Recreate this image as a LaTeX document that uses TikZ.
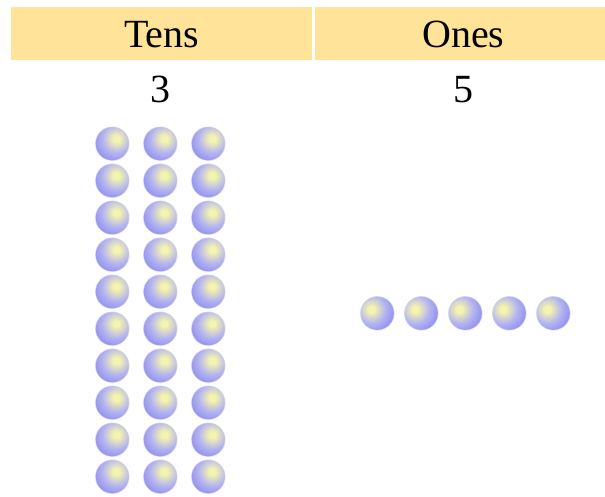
\documentclass[tikz,border=0pt]{standalone}
\usepackage{fontspec}
\setmainfont{Liberation Serif}
\definecolor{hdr}{HTML}{FFE399}
\definecolor{ballblue}{HTML}{7272EE}
\definecolor{ballhi}{HTML}{F4F4AE}
\definecolor{balllav}{HTML}{B4B4F0}
\pgfdeclareradialshading{sphere}{\pgfpoint{0bp}{0bp}}{color(0bp)=(ballhi); color(3bp)=(ballhi); color(14bp)=(balllav); color(32bp)=(ballblue); color(50bp)=(ballblue)}
\tikzset{
  cell/.style={fill=hdr, draw=none, inner sep=0pt, minimum height=53pt},
  label text/.style={font=\fontsize{40}{48}\selectfont, anchor=base, inner sep=0pt},
  ballhalo/.style={fill=ballblue!30},
  ballshade/.style={shading=sphere}
}
\newcommand\mkball[5]{%
  \coordinate (#1) at ({#2},{#3});
  \fill[ballhalo] (#1) circle (17.2);
  \begin{scope}
    \clip (#1) circle (16.5);
    \shade[ballshade] ([shift={(#4,#5)}]#1) circle (25);
  \end{scope}
}
\begin{document}
\begin{tikzpicture}[x=1pt, y=-1pt]
\useasboundingbox (0,0) rectangle (605,497);
\node[cell, minimum width=301pt] (tenscell) at (161.5,33.5) {};
\node[cell, minimum width=290pt] (onescell) at (460,33.5) {};
\node[label text] (tens) at (161.5,47.3) {Tens};
\node[label text] (ones) at (463.3,47.3) {Ones};
\node[label text] (tensnum) at (160.8,102.8) {3};
\node[label text] (onesnum) at (463.8,102.8) {5};
\foreach \c in {0,1,2} {
  \foreach \r in {0,...,9} {
    \mkball{t-\c-\r}{112.3+48*\c}{143.7+37*\r}{4}{-5}
  }
}
\foreach \c in {0,...,4} {
  \mkball{o-\c}{377.3+44*\c}{313.3}{-6}{-4}
}
\end{tikzpicture}
\end{document}
